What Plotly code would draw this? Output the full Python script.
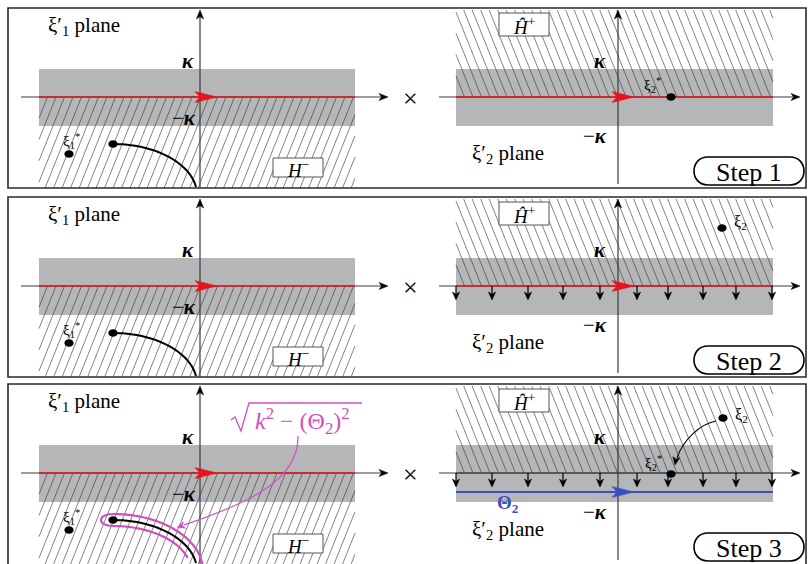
import numpy as np
import plotly.graph_objects as go

W, H = 812, 564

# ---------------- diagram data (pixel-like units, y grows downward) ----------------
PANEL_DY = [0, 189, 376]                       # vertical offset of each step panel
STEP_LABELS = ["Step 1", "Step 2", "Step 3"]
PANEL_X = [8, 806]
PANEL_Y = [8, 188]                             # panel 1 frame top / bottom

AXIS_Y = 97                                    # real axis of both planes
BAND_Y = [69, 126]                             # strip -kappa .. kappa
KAPPA_Y = 61
MKAPPA_Y_LEFT = 118
MKAPPA_Y_RIGHT = 136

# left (xi1') plane
L_VAXIS_X = 200
L_HAXIS_X = [21, 388]
L_BAND_X = [39, 355]
L_RED_TIP = 217
H_MINUS_BOX = [273, 323, 158, 177]
XI1_STAR = [69, 154]
XI1 = [113, 144]
CURVE_CENTER = [113, 195]
CURVE_AXES = [84, 51]

# right (xi2') plane
R_VAXIS_X = 618
R_HAXIS_X = [439, 800]
R_BAND_X = [456, 773]
R_RED_TIP = 634
H_PLUS_BOX = [499, 549, 13, 36]
XI2_STAR = [671, 97]
XI2_STEP2 = [722, 39]
XI2_STEP3 = [723, 42]
DOWN_ARROW_X = [456, 492, 528, 563, 600, 637, 668, 703, 736, 772]
THETA2_Y = 116
STEP_BOX = [694, 804, 157, 185]

RED = "#e8121a"
BLUE = "#3b4fc4"
MAGENTA = "#cf4fbf"
AXIS_C = "#3a3a3a"
BAND_C = "#b5b6b7"
HATCH_C = "rgba(55,55,55,0.62)"
FONT = "Liberation Serif"

shapes = []
annots = []


def P(x, y):
    return f"{x:.2f},{y:.2f}"


def arrowhead(tip, d, length=9.0, half=3.6, notch=0.72, color="black"):
    d = np.array(d, float)
    u = d / np.hypot(*d)
    p = np.array([-u[1], u[0]])
    t = np.array(tip, float)
    b = t - u * length
    n = t - u * length * notch
    b1, b2 = b + p * half, b - p * half
    path = f"M {P(*t)} L {P(*b1)} L {P(*n)} L {P(*b2)} Z"
    shapes.append(dict(type="path", path=path, fillcolor=color,
                       line=dict(color=color, width=0.5), xref="x", yref="y"))


def line(x0, y0, x1, y1, color=AXIS_C, width=1.2):
    shapes.append(dict(type="line", x0=x0, y0=y0, x1=x1, y1=y1,
                       line=dict(color=color, width=width), xref="x", yref="y"))


def rect(x0, x1, y0, y1, fill, lc=None, lw=0):
    shapes.append(dict(type="rect", x0=x0, x1=x1, y0=y0, y1=y1, fillcolor=fill,
                       line=dict(color=lc or fill, width=lw), xref="x", yref="y"))


def hatch(xa, xb, ya, yb, direction, spacing=8.5, r=0.40):
    h = yb - ya
    segs = []
    c = xa - r * h - spacing
    while c < xb + spacing:
        if direction == "/":
            p0, p1 = (c, yb), (c + r * h, ya)
        else:
            p0, p1 = (c, ya), (c + r * h, yb)
        dx = p1[0] - p0[0]
        tlo = max(0.0, (xa - p0[0]) / dx)
        thi = min(1.0, (xb - p0[0]) / dx)
        if tlo < thi:
            a = (p0[0] + tlo * dx, p0[1] + tlo * (p1[1] - p0[1]))
            b = (p0[0] + thi * dx, p0[1] + thi * (p1[1] - p0[1]))
            segs.append(f"M {P(*a)} L {P(*b)}")
        c += spacing
    shapes.append(dict(type="path", path=" ".join(segs),
                       line=dict(color=HATCH_C, width=1), xref="x", yref="y"))


def text(x, y, s, size=17, color="black", xanchor="center", yanchor="middle"):
    annots.append(dict(x=x, y=y, text=s, showarrow=False, xref="x", yref="y",
                       xanchor=xanchor, yanchor=yanchor,
                       font=dict(family=FONT, size=size, color=color)))


def dot(x, y, rx=4.6, ry=3.8):
    shapes.append(dict(type="circle", x0=x - rx, x1=x + rx, y0=y - ry, y1=y + ry,
                       fillcolor="black", line=dict(color="black", width=0),
                       xref="x", yref="y"))


def ellipse_pts(cx, cy, a, b, ybottom, n=60):
    t_end = np.arccos(min(1.0, (cy - ybottom) / b)) if cy > ybottom else np.pi / 2
    t = np.linspace(0, t_end, n)
    return cx + a * np.sin(t), cy - b * np.cos(t)


KAPPA = "<b><i>κ</i></b>"

for k, dy in enumerate(PANEL_DY):
    top = PANEL_Y[0] + dy
    bot = PANEL_Y[1] + dy
    ay = AXIS_Y + dy
    # frame
    rect(PANEL_X[0], PANEL_X[1], top, bot if bot < H else H + 6, "rgba(0,0,0,0)", lc="#2a2a2a", lw=1.6)

    # ---------- left plane ----------
    rect(L_BAND_X[0], L_BAND_X[1], BAND_Y[0] + dy, BAND_Y[1] + dy, BAND_C)
    hatch(L_BAND_X[0], L_BAND_X[1], ay, min(bot, H + 2), "/")
    line(L_HAXIS_X[0], ay, L_HAXIS_X[1] - 6, ay)
    arrowhead((L_HAXIS_X[1], ay), (1, 0))
    line(L_VAXIS_X, min(bot, H + 2), L_VAXIS_X, 16 + dy)
    arrowhead((L_VAXIS_X, 10 + dy), (0, -1))
    line(L_BAND_X[0], ay, L_BAND_X[1], ay, color=RED, width=1.5)
    arrowhead((L_RED_TIP, ay), (1, 0), length=22, half=5.5, notch=0.78, color=RED)

    # black branch-cut curve from xi1
    xs, ys = ellipse_pts(CURVE_CENTER[0], CURVE_CENTER[1] + dy, CURVE_AXES[0], CURVE_AXES[1], bot - 1)
    shapes.append(dict(type="path", path="M " + " L ".join(P(a, b) for a, b in zip(xs, ys)),
                       line=dict(color="black", width=2), xref="x", yref="y"))

    if k == 2:
        # magenta hairpin contour around the branch cut
        xo, yo = ellipse_pts(CURVE_CENTER[0], CURVE_CENTER[1] + dy, CURVE_AXES[0] + 6, CURVE_AXES[1] + 6, bot + 2)
        xi, yi = ellipse_pts(CURVE_CENTER[0], CURVE_CENTER[1] + dy, CURVE_AXES[0] - 6, CURVE_AXES[1] - 6, bot - 6)
        outer = [P(a, b) for a, b in zip(xo[::-1], yo[::-1])]
        inner = [P(a, b) for a, b in zip(xi, yi)]
        loop = (f" C {P(xo[0] - 16, yo[0])} {P(xi[0] - 16, yi[0])} {inner[0]}")
        path = "M " + " L ".join(outer) + loop + " L " + " L ".join(inner[1:])
        shapes.append(dict(type="path", path=path, line=dict(color=MAGENTA, width=2.2),
                           xref="x", yref="y"))
        # annotation arrow
        shapes.append(dict(type="path",
                           path=f"M {P(298, 436)} C {P(299, 482)} {P(243, 505)} {P(184, 525)}",
                           line=dict(color=MAGENTA, width=1.2), xref="x", yref="y"))
        arrowhead((177, 527.5), (-59, 20), length=8, half=3.5, color=MAGENTA)
        # radical sign drawn as a path, radicand as text
        shapes.append(dict(type="path",
                           path=f"M {P(231, 420)} L {P(235, 417)} L {P(241, 431)} L {P(249, 403)} L {P(362, 403)}",
                           line=dict(color=MAGENTA, width=1.3), xref="x", yref="y"))
        text(253, 421, "<i>k</i><sup>2</sup> − (Θ<sub>2</sub>)<sup>2</sup>", size=24,
             color=MAGENTA, xanchor="left")

    # labels left
    text(46, 26 + dy, "ξ′<sub>1</sub> plane", size=21, xanchor="left")
    text(196, KAPPA_Y + dy, KAPPA, size=21, xanchor="right")
    text(198, MKAPPA_Y_LEFT + dy, "−" + KAPPA, size=21, xanchor="right")
    text(71, 141 + dy, "ξ<sub>1</sub><sup>*</sup>", size=15)
    rect(H_MINUS_BOX[0], H_MINUS_BOX[1], H_MINUS_BOX[2] + dy, H_MINUS_BOX[3] + dy,
         "white", lc="#555", lw=1)
    text((H_MINUS_BOX[0] + H_MINUS_BOX[1]) / 2, (H_MINUS_BOX[2] + H_MINUS_BOX[3]) / 2 + dy + 1,
         "<i>H</i><sup>−</sup>", size=19)
    dot(XI1_STAR[0], XI1_STAR[1] + dy)
    dot(XI1[0], XI1[1] + dy)

    # times sign
    text(410, ay + 1, "×", size=26)

    # ---------- right plane ----------
    rect(R_BAND_X[0], R_BAND_X[1], BAND_Y[0] + dy, BAND_Y[1] + dy, BAND_C)
    hatch(R_BAND_X[0], R_BAND_X[1], 10 + dy, ay, "\\")
    line(R_HAXIS_X[0], ay, R_HAXIS_X[1] - 6, ay)
    arrowhead((R_HAXIS_X[1], ay), (1, 0))
    line(R_VAXIS_X, 184 + dy, R_VAXIS_X, 16 + dy)
    arrowhead((R_VAXIS_X, 10 + dy), (0, -1))

    if k == 2:
        line(R_BAND_X[0], ay, R_BAND_X[1], ay, color=AXIS_C, width=1.2)
        line(R_BAND_X[0], THETA2_Y + dy, R_BAND_X[1], THETA2_Y + dy, color=BLUE, width=1.8)
        arrowhead((R_RED_TIP, THETA2_Y + dy), (1, 0), length=22, half=5.5, notch=0.78, color=BLUE)
        text(508, 128 + dy, "<b>Θ<sub>2</sub></b>", size=19, color=BLUE)
    else:
        line(R_BAND_X[0], ay, R_BAND_X[1], ay, color=RED, width=1.5)
        arrowhead((R_RED_TIP, ay), (1, 0), length=22, half=5.5, notch=0.78, color=RED)

    if k >= 1:
        for xa in DOWN_ARROW_X:
            line(xa, ay, xa, ay + 8, color="black", width=1.2)
            arrowhead((xa, ay + 14), (0, 1), length=8, half=3.6)

    text(600, KAPPA_Y + dy, KAPPA, size=21)
    text(609, MKAPPA_Y_RIGHT + dy, "−" + KAPPA, size=21, xanchor="right")
    text(470, 154 + dy, "ξ′<sub>2</sub> plane", size=21, xanchor="left")
    rect(H_PLUS_BOX[0], H_PLUS_BOX[1], H_PLUS_BOX[2] + dy, H_PLUS_BOX[3] + dy,
         "white", lc="#555", lw=1)
    text((H_PLUS_BOX[0] + H_PLUS_BOX[1]) / 2, (H_PLUS_BOX[2] + H_PLUS_BOX[3]) / 2 + dy + 1,
         "<i>Ĥ</i><sup>+</sup>", size=19)

    if k == 0:
        dot(XI2_STAR[0], XI2_STAR[1] + dy)
        text(652, 85 + dy, "ξ<sub>2</sub><sup>*</sup>", size=15)
    elif k == 1:
        dot(XI2_STEP2[0], XI2_STEP2[1] + dy)
        text(740, 33 + dy, "ξ<sub>2</sub>", size=16)
    else:
        dot(XI2_STEP3[0], XI2_STEP3[1] + dy)
        text(741, 39 + dy, "ξ<sub>2</sub>", size=16)
        dot(XI2_STAR[0], XI2_STAR[1] + dy + 1)
        text(653, 87 + dy, "ξ<sub>2</sub><sup>*</sup>", size=15)
        shapes.append(dict(type="path",
                           path=f"M {P(716, 45 + dy)} C {P(700, 48 + dy)} {P(683, 64 + dy)} {P(677, 82 + dy)}",
                           line=dict(color="black", width=1.1), xref="x", yref="y"))
        arrowhead((675, 89 + dy), (-3, 18), length=8, half=3.5)

    # step pill
    x0, x1, y0, y1 = STEP_BOX
    y0 += dy
    y1 += dy
    r = (y1 - y0) / 2
    c = r * 1.333
    pill = (f"M {P(x0 + r, y0)} L {P(x1 - r, y0)} C {P(x1 - r + c, y0)} {P(x1 - r + c, y1)} {P(x1 - r, y1)} "
            f"L {P(x0 + r, y1)} C {P(x0 + r - c, y1)} {P(x0 + r - c, y0)} {P(x0 + r, y0)} Z")
    shapes.append(dict(type="path", path=pill, fillcolor="white",
                       line=dict(color="black", width=1.6), xref="x", yref="y"))
    text((x0 + x1) / 2, (y0 + y1) / 2 + 1, STEP_LABELS[k], size=26)

fig = go.Figure()
fig.update_layout(
    width=W, height=H, margin=dict(l=0, r=0, t=0, b=0),
    paper_bgcolor="white", plot_bgcolor="white", showlegend=False,
    xaxis=dict(range=[0, W], visible=False, fixedrange=True),
    yaxis=dict(range=[H, 0], visible=False, fixedrange=True),
    shapes=shapes, annotations=annots,
)
fig.write_html("out.html", post_script="document.body.style.margin='0';",
               config={"displayModeBar": False})
